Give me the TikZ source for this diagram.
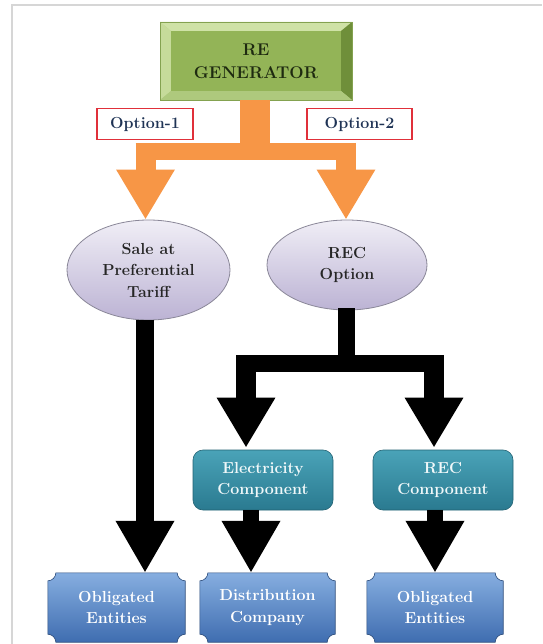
\documentclass[tikz,border=0pt]{standalone}
\usetikzlibrary{arrows.meta,shapes.geometric,calc}
\definecolor{frameg}{HTML}{D6D6D6}
\definecolor{orng}{HTML}{F79646}
\definecolor{gface}{HTML}{93B457}
\definecolor{glight}{HTML}{CFE2A6}
\definecolor{gmid}{HTML}{B5CF84}
\definecolor{gdark}{HTML}{6F8F3A}
\definecolor{gtext}{HTML}{1E2A10}
\definecolor{optred}{HTML}{E0303A}
\definecolor{opttext}{HTML}{1F3355}
\definecolor{lavtop}{HTML}{F0EEF6}
\definecolor{lavbot}{HTML}{BCB3D4}
\definecolor{lavedge}{HTML}{8A8798}
\definecolor{teal1}{HTML}{4AA3B8}
\definecolor{teal2}{HTML}{2A7A90}
\definecolor{blue1}{HTML}{86AEE0}
\definecolor{blue2}{HTML}{3F6DB0}
\tikzset{
  lbl/.style={font=\bfseries\fontsize{16}{21.5}\selectfont, align=center, inner sep=0pt},
  genbox/.style={lbl, font=\bfseries\fontsize{17}{23}\selectfont, text=gtext, minimum width=192pt, minimum height=78pt},
  optbox/.style={lbl, font=\bfseries\fontsize{16}{18}\selectfont, text=opttext, draw=optred, line width=1.6pt, fill=white, minimum height=31pt},
  ellnode/.style={lbl, ellipse, draw=lavedge, line width=0.8pt, top color=lavtop, bottom color=lavbot, text=black!85},
  tealbox/.style={lbl, text=white!92!teal1, rounded corners=10pt, top color=teal1, bottom color=teal2, draw=teal2!80!black, line width=0.6pt, minimum width=140pt, minimum height=60pt},
  plaquenode/.style={lbl, text=white, minimum height=69pt},
  oline/.style={draw=orng, color=orng},
  bline/.style={draw=black, color=black},
  bigtip/.style={-{Triangle[width=55pt,length=50pt]}},
}
\newcommand{\plaque}[1]{%
  \draw[draw=blue2!70!black, line width=0.6pt, top color=blue1, bottom color=blue2]
    ($(#1.north west)+(8,0)$) -- ($(#1.north east)+(-8,0)$)
    arc[start angle=180,end angle=270,radius=8pt]
    -- ($(#1.south east)+(0,-8)$)
    arc[start angle=90,end angle=180,radius=8pt]
    -- ($(#1.south west)+(8,0)$)
    arc[start angle=0,end angle=90,radius=8pt]
    -- ($(#1.north west)+(0,8)$)
    arc[start angle=270,end angle=360,radius=8pt] -- cycle;}
\begin{document}
\begin{tikzpicture}[x=1pt,y=-1pt]
\useasboundingbox (0,0) rectangle (542,644);
\fill[white] (0,0) rectangle (542,644);
% frame lines
\draw[frameg, line width=2pt] (11.5,644) -- (11.5,5.5) -- (542,5.5);

% RE generator bevelled box
\fill[gmid] (160,22) rectangle (352,100);
\fill[glight] (160,22) -- (352,22) -- (341,31) -- (171,31) -- cycle;
\fill[glight!85!gface] (160,22) -- (171,31) -- (171,91) -- (160,100) -- cycle;
\fill[gdark] (352,22) -- (352,100) -- (341,91) -- (341,31) -- cycle;
\fill[gmid!90!gdark] (160,100) -- (352,100) -- (341,91) -- (171,91) -- cycle;
\fill[gface] (171,31) rectangle (341,91);
\draw[gdark!70!gmid, line width=0.5pt] (160,22) rectangle (352,100);
\node[genbox] (gen) at (256,61) {RE\\GENERATOR};

% option labels
\node[optbox, minimum width=96pt] (opt1) at (145,124) {Option-1};
\node[optbox, minimum width=105pt] (opt2) at (359.5,124) {Option-2};

% ellipses
\node[ellnode, minimum width=163pt, minimum height=100pt] (sale) at (148.5,270) {Sale at\\Preferential\\Tariff};
\node[ellnode, minimum width=160pt, minimum height=90pt] (rec) at (347,265) {REC\\Option};

% teal boxes
\node[tealbox] (elec) at (263,480) {Electricity\\Component};
\node[tealbox] (recc) at (443,480) {REC\\Component};

% bottom plaques
\node[plaquenode, minimum width=137pt] (obl1) at (116.5,607.5) {};
\node[plaquenode, minimum width=135pt] (dist) at (267.5,607.5) {};
\node[plaquenode, minimum width=136pt] (obl2) at (435,607.5) {};
\plaque{obl1}\plaque{dist}\plaque{obl2}
\node[lbl, text=white] at (obl1) {Obligated\\Entities};
\node[lbl, text=white] at (dist) {Distribution\\Company};
\node[lbl, text=white] at (obl2) {Obligated\\Entities};

% orange fork
\coordinate (of) at (255,151.5);
\coordinate (oL) at (145.5,0);
\coordinate (oR) at (346,0);
\draw[oline, line width=30pt] (gen.south -| of) -- ($(of)+(0,-8.5)$);
\draw[oline, line width=17pt, shorten <=-10pt, shorten >=-10pt] (of -| oL) -- (of -| oR);
\draw[oline, line width=20pt, bigtip] ($(of -| oL)+(0,-8.5)$) -- (sale.north -| oL);
\draw[oline, line width=20pt, bigtip] ($(of -| oR)+(0,-8.5)$) -- (rec.north -| oR);

% black arrows
\coordinate (bL) at (145,0);
\draw[bline, line width=18pt, -{Triangle[width=55pt,length=52pt]}] (sale.south -| bL) -- (obl1.north -| bL);
\coordinate (bf) at (346,363.5);
\coordinate (bA) at (246,0);
\coordinate (bB) at (434,0);
\draw[bline, line width=17pt] ($(rec.south -| bf)+(0,-2)$) -- ($(bf)+(0,-8.5)$);
\draw[bline, line width=17pt, shorten <=-10pt, shorten >=-10pt] (bf -| bA) -- (bf -| bB);
\draw[bline, line width=20pt, bigtip] ($(bf -| bA)+(0,-8.5)$) -- ($(elec.north -| bA)+(0,-2)$);
\draw[bline, line width=20pt, bigtip] ($(bf -| bB)+(0,-8.5)$) -- ($(recc.north -| bB)+(0,-2)$);
\coordinate (cA) at (251,0);
\coordinate (cB) at (435,0);
\draw[bline, line width=16pt, -{Triangle[width=55pt,length=52pt]}] (elec.south -| cA) -- (dist.north -| cA);
\draw[bline, line width=16pt, -{Triangle[width=55pt,length=52pt]}] (recc.south -| cB) -- (obl2.north -| cB);
\end{tikzpicture}
\end{document}
